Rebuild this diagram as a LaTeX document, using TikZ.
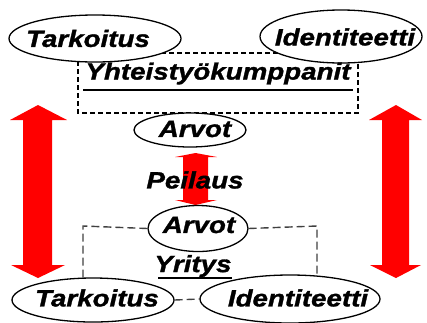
\documentclass[tikz,border=0pt]{standalone}
\usepackage{fontspec}
\setmainfont{Liberation Sans}
\newfontfamily\labfont{Liberation Sans}[FakeStretch=1.18,FakeBold=1.3]
\usetikzlibrary{shapes.geometric}
\begin{document}
\begin{tikzpicture}[x=1pt,y=-1pt,
  lab/.style={font=\labfont\fontsize{23.5}{23.5}\selectfont\bfseries\itshape, inner sep=0pt},
  oval/.style={ellipse, draw=black, line width=1.3pt, fill=white, inner sep=0pt},
  bigarrow/.style={fill=red, draw=none},
  dashtop/.style={dash pattern=on 5pt off 3pt, line width=1.2pt, black},
  dashbot/.style={dash pattern=on 8pt off 4pt, line width=1.4pt, black!75},
  uline/.style={line width=1.7pt, black}]
\useasboundingbox (0,0) rectangle (427,322);
\clip (0,0) rectangle (427,322);
% dashed box (top)
\draw[dashtop] (78,53) rectangle (358,113);
% big arrows
\fill[bigarrow] (23,120) -- (10,120) -- (38,105) -- (67,120) -- (52,120) -- (52,265) -- (65,265) -- (38,278) -- (11,265) -- (23,265) -- cycle;
\fill[bigarrow] (382,120) -- (369,120) -- (396,105) -- (422,120) -- (409,120) -- (409,265) -- (421,265) -- (396,278) -- (370,265) -- (382,265) -- cycle;
% middle arrow
\fill[bigarrow] (183,157) -- (175,157) -- (195.5,153) -- (217,157) -- (208,157) -- (208,200) -- (217,200) -- (195.5,205) -- (175,200) -- (183,200) -- cycle;
% top nodes
\node[oval, minimum width=172pt, minimum height=47pt] (t1) at (95,38.5) {};
\node[lab] (t1t) at (88,38.5) {Tarkoitus};
\node[oval, minimum width=162pt, minimum height=53pt] (i1) at (341,36.5) {};
\node[lab] (i1t) at (345,37) {Identiteetti};
\node[lab] (yh) at (218,73.5) {Yhteistyökumppanit};
\draw[uline] (83,90) -- (353,90);
\node[oval, minimum width=112pt, minimum height=34pt] (a1) at (190,130) {};
\node[lab] (a1t) at (195,129) {Arvot};
\node[lab] (pe) at (195,180) {Peilaus};
% bottom nodes
\node[oval, minimum width=100pt, minimum height=46pt] (a2) at (198,228.5) {};
\node[lab] (a2t) at (199,225) {Arvot};
\coordinate (cl) at (83,226);
\coordinate (cr) at (317,226);
\draw[dashbot] (a2.west) -- (cl) -- (83,279);
\draw[dashbot] (a2.east) -- (cr) -- (317,277);
\node[lab] (yr) at (193,266) {Yritys};
\draw[uline] (158,278) -- (232,278);
\node[oval, minimum width=162pt, minimum height=44pt] (t2) at (93,300) {};
\node[lab] (t2t) at (97,298) {Tarkoitus};
\node[oval, minimum width=180pt, minimum height=48pt] (i2) at (290,299) {};
\node[lab] (i2t) at (298,298) {Identiteetti};
\draw[dashbot] (t2.east) -- (i2.west);
\end{tikzpicture}
\end{document}
